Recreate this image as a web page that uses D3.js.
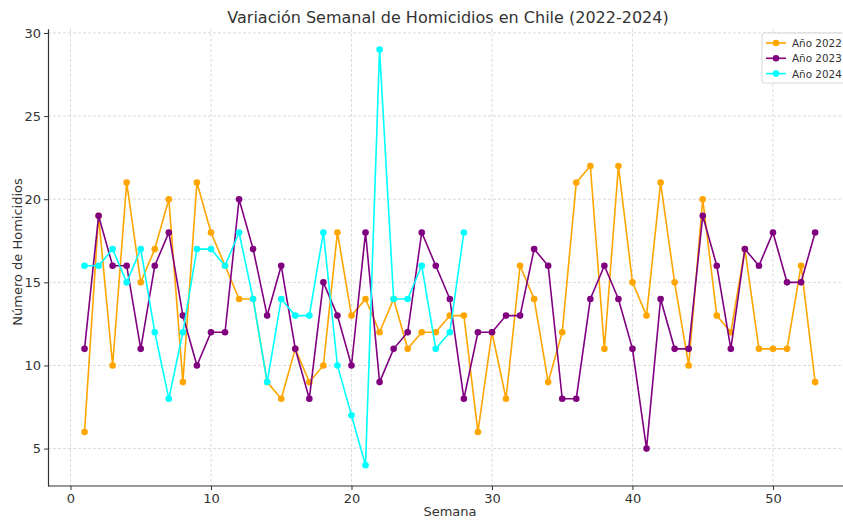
<!DOCTYPE html>
<html><head><meta charset="utf-8">
<script src="https://cdn.jsdelivr.net/npm/d3@7"></script>
<style>body{margin:0;background:#fff;}svg{display:block;font-family:"DejaVu Sans",sans-serif;}</style>
</head><body><svg id="c" width="843" height="521"></svg>
<script>
const weeks2022 = d3.range(1, 54);
const values2022 = [6,19,10,21,15,17,20,9,21,18,16,14,14,9,8,11,9,10,18,13,14,12,14,11,12,12,13,13,6,12,8,16,14,9,12,21,22,11,22,15,13,21,15,10,20,13,12,17,11,11,11,16,9];
const values2023 = [11,19,16,16,11,16,18,13,10,12,12,20,17,13,16,11,8,15,13,10,18,9,11,12,18,16,14,8,12,12,13,13,17,16,8,8,14,16,14,11,5,14,11,11,19,16,11,17,16,18,15,15,18];
const values2024 = [16,16,17,15,17,12,8,12,17,17,16,18,14,9,14,13,13,18,10,7,4,29,14,14,16,11,12,18];
const seriesNames = ["Año 2022","Año 2023","Año 2024"];
const seriesColors = ["#FFA500","#800080","#00FFFF"];
const xTicks = [0,10,20,30,40,50];
const yTicks = [5,10,15,20,25,30];

const series = [values2022, values2023, values2024].map((v,i)=>({
  name: seriesNames[i], color: seriesColors[i],
  pts: v.map((y,j)=>({x: j+1, y}))
}));

const svg = d3.select("#c");
const L = 48, B = 486, T = 28.8;
const x = d3.scaleLinear().domain([-1.6, 55.6]).range([L, L + 57.2*14.05]);
const y = d3.scaleLinear().domain([2.75, 30.25]).range([B, T]);

// grid
svg.append("g").selectAll("line").data(xTicks).join("line")
  .attr("x1", d=>x(d)).attr("x2", d=>x(d)).attr("y1", T).attr("y2", B)
  .attr("stroke", "#d0d0d0").attr("stroke-width", 0.8).attr("stroke-dasharray", "3,2");
svg.append("g").selectAll("line").data(yTicks).join("line")
  .attr("x1", L).attr("x2", 843).attr("y1", d=>y(d)).attr("y2", d=>y(d))
  .attr("stroke", "#d0d0d0").attr("stroke-width", 0.8).attr("stroke-dasharray", "3,2");

// axes
const xAxis = svg.append("g").attr("transform", `translate(0,${B})`)
  .call(d3.axisBottom(x).tickValues(xTicks).tickSizeInner(4).tickSizeOuter(0).tickPadding(4).tickFormat(d3.format("d")));
const yAxis = svg.append("g").attr("transform", `translate(${L},0)`)
  .call(d3.axisLeft(y).tickValues(yTicks).tickSizeInner(4).tickSizeOuter(0).tickPadding(3).tickFormat(d3.format("d")));
[xAxis, yAxis].forEach(g=>{
  g.select(".domain").attr("stroke", "#333").attr("stroke-width", 1.2);
  g.selectAll(".tick line").attr("stroke", "#333");
  g.selectAll(".tick text").attr("fill", "#333").style("font-size", "13px").style("font-family", "DejaVu Sans");
});
xAxis.select(".domain").attr("d", `M${L},0H843`);

// lines
const line = d3.line().x(d=>x(d.x)).y(d=>y(d.y));
series.forEach(s=>{
  svg.append("path").datum(s.pts).attr("d", line).attr("fill","none")
    .attr("stroke", s.color).attr("stroke-width", 1.6);
  svg.append("g").selectAll("circle").data(s.pts).join("circle")
    .attr("cx", d=>x(d.x)).attr("cy", d=>y(d.y)).attr("r", 3.3).attr("fill", s.color);
});

// title & labels
svg.append("text").attr("x", 448).attr("y", 23).attr("text-anchor","middle")
  .attr("fill","#333").style("font-size","16px").text("Variación Semanal de Homicidios en Chile (2022-2024)");
svg.append("text").attr("x", 450).attr("y", 516).attr("text-anchor","middle")
  .attr("fill","#333").style("font-size","13px").text("Semana");
svg.append("text").attr("transform","translate(22,252) rotate(-90)").attr("text-anchor","middle")
  .attr("fill","#333").style("font-size","13px").text("Número de Homicidios");

// legend
const lg = svg.append("g").attr("transform","translate(762,33)");
lg.append("rect").attr("x",0).attr("y",0).attr("width",90).attr("height",50).attr("rx",2)
  .attr("fill","#fff").attr("fill-opacity",0.85).attr("stroke","#ccc").attr("stroke-width",0.8);
series.forEach((s,i)=>{
  const yy = 10 + i*15.3;
  lg.append("line").attr("x1",4).attr("x2",24).attr("y1",yy).attr("y2",yy).attr("stroke",s.color).attr("stroke-width",1.6);
  lg.append("circle").attr("cx",14).attr("cy",yy).attr("r",3.3).attr("fill",s.color);
  lg.append("text").attr("x",30).attr("y",yy+4).attr("fill","#333").style("font-size","10.4px").text(s.name);
});
</script></body></html>
